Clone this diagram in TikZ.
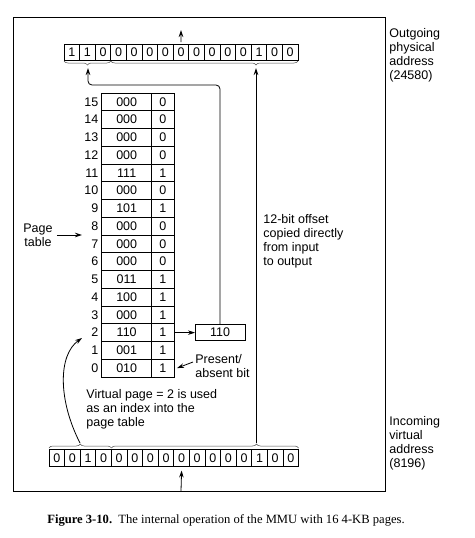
\documentclass[tikz,border=0pt]{standalone}
\usepackage{fontspec}
\setmainfont{Liberation Serif}
\setsansfont{Liberation Sans}
\usetikzlibrary{positioning, arrows.meta, decorations.pathreplacing}

\tikzset{
  cell/.style={draw, minimum height=16pt, inner sep=0pt, outer sep=0pt},
  bitcell/.style={cell, minimum width=15.6pt},
  rowcell/.style={cell, minimum height=17.75pt},
  arr/.style={-{Stealth[length=7pt,width=4.5pt]}},
  brc/.style={decorate, decoration={brace, amplitude=4pt, aspect=#1},
    line width=0.5pt, black!70},
  txt/.style={align=left, inner sep=0pt, anchor=north west},
}

\begin{document}
\begin{tikzpicture}[x=1pt, y=-1pt, line width=0.8pt,
    font=\sffamily\fontsize{12.5}{14}\selectfont]
  \useasboundingbox (0,0) rectangle (474,538);

  % MMU frame
  \draw (13,17) rectangle (385,491);

  % outgoing physical address, 15 bits
  \foreach \d [count=\k from 0] in {1,1,0,0,0,0,0,0,0,0,0,0,1,0,0}
    \node[bitcell] (p\k) at ({64+(\k+0.5)*15.6},52) {\d};
  \draw[brc=0.5] ([yshift=-1pt]p2.south east) -- ([yshift=-1pt]p0.south west);
  \draw[brc=0.224] ([yshift=-1pt]p14.south east) -- ([yshift=-1pt]p3.south west);

  % incoming virtual address, 16 bits
  \foreach \d [count=\k from 0] in {0,0,1,0,0,0,0,0,0,0,0,0,0,1,0,0}
    \node[bitcell, minimum height=17pt] (v\k) at ({49+(\k+0.5)*15.6},458) {\d};
  \draw[brc=0.5] ([yshift=1.5pt]v0.north west) -- ([yshift=1.5pt]v3.north east);
  \draw[brc=0.775] ([yshift=1.5pt]v4.north west) -- ([yshift=1.5pt]v15.north east);

  % page table: frame number and present/absent bit
  \foreach \fr/\pb [count=\r from 0] in {010/1,001/1,110/1,000/1,100/1,011/1,
      000/0,000/0,000/0,101/1,000/0,111/1,000/0,000/0,000/0,000/0} {
    \node[rowcell, minimum width=50pt] (f\r) at (126.7,{377-(\r+0.5)*17.75}) {\fr};
    \node[rowcell, minimum width=22.3pt, right=0pt of f\r] (b\r) {\pb};
    \node[left=3pt of f\r, inner sep=0pt] (n\r) {\r};
  }

  % selected frame
  \node[cell, minimum width=50pt, right=21pt of b2] (frm) {110};
  \draw[arr] (b2.east) -- (frm.west);

  % frame number goes to the high bits
  \coordinate (pgbend) at (88,85);
  \coordinate (pgout) at (88,68);
  \draw[arr, rounded corners=4pt] (frm.north) |- (pgbend) -- (pgout);

  % offset copied straight up
  \coordinate (offin) at (256,443);
  \coordinate (offout) at (256,68);
  \draw[arr] (offin) -- (offout);

  % in and out of the MMU
  \coordinate (physout) at (181,30);
  \draw[arr] ([yshift=2pt]p7.north) -- (physout);
  \coordinate (virtin) at (181,491);
  \draw[arr] (virtin) -- ([yshift=-4pt]v8.south);

  % virtual page used as index
  \coordinate (vpin) at (80,443);
  \coordinate (vptip) at (82,338);
  \draw[arr] (vpin) .. controls (58,400) and (58,355) .. (vptip);

  % labels
  \node[align=center, inner sep=0pt] (ptlabel) at (38,235) {Page\\table};
  \coordinate (pttip) at (82,235);
  \draw[arr] ([xshift=4pt]ptlabel.east) -- (pttip);

  \node[txt] (absent) at (195,354) {Present/\\absent bit};
  \draw[arr] ([shift={(-2pt,-8pt)}]absent.north west) -- ([xshift=3pt]b0.east);

  \node[txt] (vptext) at (86,389) {Virtual page = 2 is used\\as an index into the\\page table};
  \node[txt] (offlbl) at (263,214) {12-bit offset\\copied directly\\from input\\to output};
  \node[txt] (outlbl) at (389,28) {Outgoing\\physical\\address\\(24580)};
  \node[txt] (inlbl) at (389,416) {Incoming\\virtual\\address\\(8196)};

  \node[font=\rmfamily\fontsize{12.6}{14}\selectfont] (caption) at (226,520)
    {\textbf{Figure 3-10.}\enspace The internal operation of the MMU with 16 4-KB pages.};
\end{tikzpicture}
\end{document}
